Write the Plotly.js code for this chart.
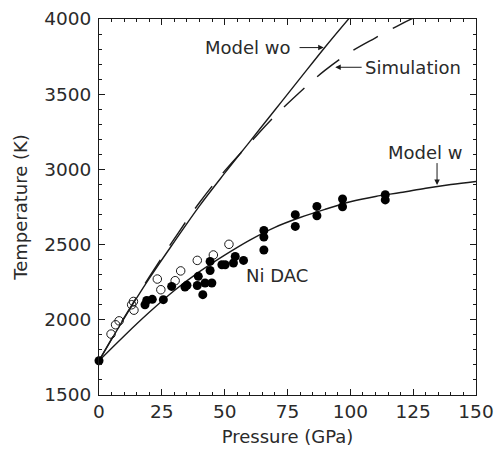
<!DOCTYPE html>
<html>
<head>
<meta charset="utf-8">
<script src="https://cdn.plot.ly/plotly-3.0.1.min.js"></script>
<style>html,body{margin:0;padding:0;background:#fff;}#chart{width:497px;height:451px;}</style>
</head>
<body>
<div id="chart"></div>
<script>
// Model without (solid)
const modelWoP = [0, 10, 20, 30, 40, 50, 60, 70, 80, 90, 100];
const modelWoT = [1728, 2010, 2275, 2520, 2758, 2975, 3185, 3395, 3605, 3814, 4014];

// Simulation (dashed)
const simP = [0, 10, 20, 30, 40, 50, 60, 70, 80, 90, 100, 110, 120, 130];
const simT = [1728, 2015, 2285, 2540, 2780, 2990, 3175, 3355, 3515, 3660, 3780, 3875, 3965, 4045];

// Model with (solid, lower curve)
const modelWP = [0, 10, 20, 30, 40, 50, 60, 70, 80, 90, 100, 110, 120, 130, 140, 150];
const modelWT = [1728, 1893, 2050, 2195, 2320, 2430, 2530, 2615, 2680, 2735, 2785, 2820, 2846, 2875, 2900, 2920];

// Ni DAC filled circles
const filledP = [0, 18.3, 19.0, 21.2, 25.6, 28.9, 34.2, 35.0, 39.5, 39.1, 41.3, 42.2, 44.9, 44.2, 44.2,
  48.9, 50.2, 53.5, 54.2, 57.5, 65.6, 65.6, 65.6, 78.1, 78.1, 86.7, 86.7, 96.9, 96.9, 113.9, 113.9];
const filledT = [1728, 2100, 2129, 2136, 2134, 2222, 2218, 2230, 2289, 2228, 2167, 2245, 2245, 2388, 2328,
  2366, 2366, 2378, 2421, 2395, 2594, 2550, 2464, 2699, 2621, 2754, 2692, 2803, 2752, 2832, 2797];

// Open circles
const openP = [4.8, 6.6, 8.0, 13.0, 13.7, 13.9, 23.2, 24.6, 30.3, 32.5, 39.1, 45.5, 51.7];
const openT = [1905, 1967, 1993, 2100, 2122, 2064, 2271, 2200, 2260, 2325, 2395, 2431, 2502];

// Axis ticks
const xTicks = [0, 25, 50, 75, 100, 125, 150];
const yTicks = [1500, 2000, 2500, 3000, 3500, 4000];

const ink = '#1a1a1a';
const font = {family: 'DejaVu Sans', size: 18, color: '#2a2a2a'};
const tickFont = {family: 'DejaVu Sans', size: 18.5, color: '#2a2a2a'};

const traces = [
  {x: modelWoP, y: modelWoT, mode: 'lines', line: {color: ink, width: 1.4, shape: 'spline'}, hoverinfo: 'skip'},
  {x: simP, y: simT, mode: 'lines', line: {color: ink, width: 1.4, dash: '28px,17px', shape: 'spline'}, hoverinfo: 'skip'},
  {x: modelWP, y: modelWT, mode: 'lines', line: {color: ink, width: 1.4, shape: 'spline'}, hoverinfo: 'skip'},
  {x: openP, y: openT, mode: 'markers', cliponaxis: false,
   marker: {symbol: 'circle-open', size: 8.5, color: ink, line: {width: 1, color: ink}}},
  {x: filledP, y: filledT, mode: 'markers', cliponaxis: false,
   marker: {symbol: 'circle', size: 9, color: '#000'}}
];

const axisCommon = {
  showgrid: false, zeroline: false, showline: true, linecolor: ink, linewidth: 1,
  mirror: 'allticks', ticks: 'inside', ticklen: 6, tickwidth: 1, tickcolor: ink,
  tickfont: tickFont
};

const layout = {
  width: 497, height: 451,
  margin: {l: 99, r: 21, t: 19, b: 56},
  paper_bgcolor: '#fff', plot_bgcolor: '#fff',
  showlegend: false,
  font: font,
  xaxis: Object.assign({}, axisCommon, {
    range: [0, 150], tickvals: xTicks, ticktext: xTicks.map(String),
    minor: {dtick: 5, tick0: 0, ticks: 'inside', ticklen: 3, tickcolor: ink},
    title: {text: 'Pressure (GPa)', font: font, standoff: 9}
  }),
  yaxis: Object.assign({}, axisCommon, {
    range: [1500, 4000], tickvals: yTicks, ticktext: yTicks.map(String),
    ticklabelstandoff: 3,
    minor: {dtick: 100, tick0: 1500, ticks: 'inside', ticklen: 3, tickcolor: ink},
    title: {text: 'Temperature (K)', font: font, standoff: 11}
  }),
  annotations: [
    {x: 77.3, y: 3810, xref: 'x', yref: 'y', text: 'Model wo', showarrow: false, xanchor: 'right', yanchor: 'middle', font: font},
    {x: 89.4, y: 3810, ax: 79.2, ay: 3810, xref: 'x', yref: 'y', axref: 'x', ayref: 'y', text: '', showarrow: true, arrowhead: 2, arrowsize: 1.1, arrowwidth: 1, arrowcolor: ink},
    {x: 105.1, y: 3679, xref: 'x', yref: 'y', text: 'Simulation', showarrow: false, xanchor: 'left', yanchor: 'middle', font: font},
    {x: 94.0, y: 3679, ax: 105.1, ay: 3679, xref: 'x', yref: 'y', axref: 'x', ayref: 'y', text: '', showarrow: true, arrowhead: 2, arrowsize: 1.1, arrowwidth: 1, arrowcolor: ink},
    {x: 129.8, y: 3110, xref: 'x', yref: 'y', text: 'Model w', showarrow: false, xanchor: 'center', yanchor: 'middle', font: font},
    {x: 134.5, y: 2897, ax: 134.5, ay: 3052, xref: 'x', yref: 'y', axref: 'x', ayref: 'y', text: '', showarrow: true, arrowhead: 2, arrowsize: 1.1, arrowwidth: 1, arrowcolor: ink},
    {x: 70.7, y: 2293, xref: 'x', yref: 'y', text: 'Ni DAC', showarrow: false, xanchor: 'center', yanchor: 'middle', font: font}
  ]
};

Plotly.newPlot('chart', traces, layout, {staticPlot: true, displayModeBar: false});
</script>
</body>
</html>
